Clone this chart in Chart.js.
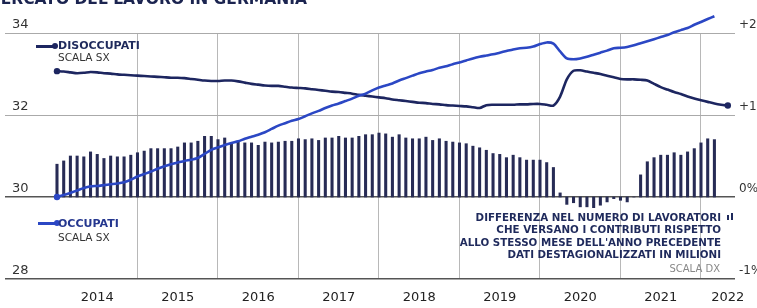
<!DOCTYPE html>
<html>
<head>
<meta charset="utf-8">
<script src="https://cdn.jsdelivr.net/npm/chart.js@4/dist/chart.umd.min.js"></script>
<style>
  html, body { margin: 0; padding: 0; background: #fff; }
  #wrap { position: relative; width: 757px; height: 308px; overflow: hidden; font-family: "DejaVu Sans", sans-serif; }
  #chart { position: absolute; left: 0; top: 0; }
  .txt { position: absolute; white-space: nowrap; }
  #title { right: 450px; top: -8px; font-size: 15.5px; line-height: 15px; font-weight: bold; color: #1b2450; }
  .leg { font-size: 11px; line-height: 12px; font-weight: bold; }
  .sub { font-size: 10.5px; line-height: 12px; color: #333; }
  .mk { position: absolute; height: 2.5px; width: 18px; }
  .dot { position: absolute; width: 6px; height: 6px; border-radius: 50%; }
  #note { right: 36px; top: 211px; text-align: right; font-size: 10.3px; line-height: 12.3px; font-weight: bold; color: #1f2a5c; }
  #scaladx { right: 37px; top: 263px; font-size: 10px; line-height: 12px; color: #888; }
  .ico { position: absolute; width: 2px; background: #1f2a5c; }
</style>
</head>
<body>
<div id="wrap">
  <canvas id="chart" width="757" height="308"></canvas>
  <div id="title" class="txt">IL MERCATO DEL LAVORO IN GERMANIA</div>

  <div class="mk" style="left:36px;top:45px;background:#1d2660"></div>
  <div class="dot" style="left:52px;top:43px;background:#1d2660"></div>
  <div class="txt leg" style="left:58px;top:40px;color:#1f2a5c">DISOCCUPATI</div>
  <div class="txt sub" style="left:58px;top:51px">SCALA SX</div>

  <div class="mk" style="left:38px;top:222px;background:#2b47c4"></div>
  <div class="dot" style="left:54px;top:220px;background:#2b47c4"></div>
  <div class="txt leg" style="left:58px;top:218px;color:#25378f">OCCUPATI</div>
  <div class="txt sub" style="left:58px;top:231px">SCALA SX</div>

  <div id="note" class="txt">DIFFERENZA NEL NUMERO DI LAVORATORI<br>CHE VERSANO I CONTRIBUTI RISPETTO<br>ALLO STESSO MESE DELL'ANNO PRECEDENTE<br>DATI DESTAGIONALIZZATI IN MILIONI</div>
  <div class="ico" style="left:727px;top:215px;height:5px"></div>
  <div class="ico" style="left:731px;top:213px;height:7px"></div>
  <div id="scaladx" class="txt">SCALA DX</div>
</div>
<script>
// monthly data, Jan 2014 onwards
const yearLabels = ['2014', '2015', '2016', '2017', '2018', '2019', '2020', '2021', '2022'];
const leftTicks = [28, 30, 32, 34];
const rightTicks = ['-1%', '0%', '+1%', '+2%'];

const disoccupati = [
  33.07, 33.06, 33.04, 33.02, 33.03, 33.05, 33.04, 33.02, 33.01, 32.99, 32.98, 32.97,
  32.96, 32.95, 32.94, 32.93, 32.92, 32.91, 32.91, 32.90, 32.88, 32.86, 32.84, 32.83,
  32.83, 32.84, 32.84, 32.82, 32.79, 32.76, 32.74, 32.72, 32.71, 32.71, 32.69, 32.67,
  32.66, 32.65, 32.63, 32.61, 32.59, 32.57, 32.56, 32.54, 32.52, 32.49, 32.47, 32.45,
  32.43, 32.41, 32.38, 32.36, 32.34, 32.32, 32.30, 32.29, 32.27, 32.26, 32.24, 32.23,
  32.22, 32.21, 32.19, 32.17, 32.24, 32.25, 32.25, 32.25, 32.25, 32.26, 32.26, 32.27,
  32.27, 32.25, 32.23, 32.45, 32.87, 33.08, 33.09, 33.06, 33.03, 33.00, 32.96, 32.92,
  32.88, 32.87, 32.87, 32.86, 32.84, 32.76, 32.68, 32.62, 32.56, 32.51, 32.45, 32.40,
  32.36, 32.32, 32.28, 32.25, 32.23
];

const occupati = [
  30.00, 30.05, 30.10, 30.16, 30.22, 30.26, 30.27, 30.29, 30.31, 30.33, 30.36, 30.42,
  30.50, 30.56, 30.62, 30.69, 30.75, 30.80, 30.84, 30.88, 30.91, 30.95, 31.05, 31.15,
  31.21, 31.27, 31.32, 31.36, 31.42, 31.47, 31.52, 31.58, 31.66, 31.74, 31.80, 31.86,
  31.90, 31.97, 32.04, 32.10, 32.17, 32.23, 32.28, 32.34, 32.40, 32.47, 32.52, 32.60,
  32.67, 32.72, 32.77, 32.84, 32.90, 32.96, 33.02, 33.06, 33.10, 33.15, 33.19, 33.24,
  33.28, 33.33, 33.38, 33.42, 33.45, 33.48, 33.52, 33.56, 33.60, 33.63, 33.64, 33.67,
  33.73, 33.77, 33.74, 33.55, 33.38, 33.36, 33.38, 33.42, 33.47, 33.52, 33.57, 33.63,
  33.64, 33.66, 33.70, 33.75, 33.80, 33.85, 33.90, 33.95, 34.02, 34.07, 34.12, 34.20,
  34.27, 34.34, 34.41
];

const differenza = [
  0.40, 0.44, 0.50, 0.50, 0.49, 0.55, 0.52, 0.47, 0.50, 0.49, 0.49, 0.51,
  0.54, 0.56, 0.59, 0.59, 0.59, 0.59, 0.61, 0.66, 0.66, 0.68, 0.74, 0.74,
  0.70, 0.72, 0.66, 0.67, 0.66, 0.66, 0.63, 0.67, 0.66, 0.67, 0.68, 0.68,
  0.71, 0.70, 0.71, 0.69, 0.72, 0.72, 0.74, 0.72, 0.72, 0.74, 0.76, 0.76,
  0.78, 0.77, 0.73, 0.76, 0.72, 0.71, 0.71, 0.73, 0.69, 0.71, 0.68, 0.67,
  0.66, 0.65, 0.62, 0.60, 0.57, 0.53, 0.52, 0.48, 0.51, 0.48, 0.45, 0.45,
  0.45, 0.42, 0.36, 0.05, -0.09, -0.07, -0.12, -0.12, -0.13, -0.10, -0.06, -0.02,
  -0.04, -0.06, 0, 0.27, 0.43, 0.48, 0.51, 0.51, 0.54, 0.51, 0.55, 0.59,
  0.66, 0.71, 0.70
];

const NAVY = '#1d2660';
const BLUE = '#2b47c4';
const BAR = '#272b55';
const X_MIN = -7.75, X_MAX = 101.07;

const toXY = arr => arr.map((v, i) => ({ x: i, y: v }));
const endDots = (ctx) => {
  const n = ctx.dataset.data.length;
  return (ctx.dataIndex === 0 || ctx.dataIndex === n - 1) ? 3.2 : 0;
};

const ctx = document.getElementById('chart').getContext('2d');
const chart = new Chart(ctx, {
  data: {
    datasets: [
      {
        type: 'bar',
        label: 'Differenza',
        data: toXY(differenza),
        backgroundColor: BAR,
        barThickness: 2.4,
        xAxisID: 'x',
        yAxisID: 'y2',
        order: 3
      },
      {
        type: 'line',
        label: 'Disoccupati',
        data: toXY(disoccupati),
        borderColor: NAVY,
        backgroundColor: NAVY,
        borderWidth: 2.6,
        tension: 0.25,
        pointRadius: endDots,
        pointBorderWidth: 0,
        xAxisID: 'x',
        yAxisID: 'y',
        clip: false,
        order: 2
      },
      {
        type: 'line',
        label: 'Occupati',
        data: toXY(occupati),
        borderColor: BLUE,
        backgroundColor: BLUE,
        borderWidth: 2.6,
        tension: 0.25,
        pointRadius: endDots,
        pointBorderWidth: 0,
        xAxisID: 'x',
        yAxisID: 'y',
        clip: false,
        order: 1
      }
    ]
  },
  options: {
    responsive: false,
    animation: false,
    devicePixelRatio: 1,
    layout: { padding: { top: 33, left: 5, right: 0, bottom: 0 } },
    plugins: {
      legend: { display: false },
      tooltip: { enabled: false }
    },
    scales: {
      x: {
        type: 'linear',
        min: X_MIN,
        max: X_MAX,
        offset: false,
        position: 'bottom',
        weight: 1,
        grid: { display: false, drawTicks: false, offset: false },
        border: { display: false },
        afterBuildTicks: (s) => {
          s.ticks = yearLabels.map((_, i) => ({ value: Math.min(6 + 12 * i, 100) }));
        },
        afterFit: (s) => { s.height = 29; },
        ticks: {
          autoSkip: false,
          maxRotation: 0,
          padding: 11,
          color: '#222',
          font: { family: 'DejaVu Sans', size: 13 },
          callback: (v, i) => yearLabels[i]
        }
      },
      x2: {
        type: 'linear',
        min: X_MIN,
        max: X_MAX,
        offset: false,
        position: 'bottom',
        weight: 0,
        grid: { color: '#b8b8b8', lineWidth: 1, drawTicks: false, offset: false },
        border: { display: false },
        ticks: { display: false },
        afterBuildTicks: (s) => {
          s.ticks = yearLabels.slice(1).map((_, i) => ({ value: 12 * (i + 1) }));
        },
        afterFit: (s) => { s.height = 0; }
      },
      y: {
        type: 'linear',
        position: 'left',
        min: 28,
        max: 34,
        afterBuildTicks: (s) => {
          s.ticks = leftTicks.map(v => ({ value: v }));
        },
        afterFit: (s) => { s.width = 0; },
        grid: {
          drawTicks: false,
          color: (c) => c.tick && c.tick.value <= 30 ? '#555' : '#aaa',
          lineWidth: (c) => c.tick && c.tick.value <= 30 ? 1.6 : 1
        },
        border: { display: false },
        ticks: {
          mirror: true,
          padding: 7,
          labelOffset: -8.5,
          color: '#333',
          font: { family: 'DejaVu Sans', size: 13 }
        }
      },
      y2: {
        type: 'linear',
        position: 'right',
        min: -1,
        max: 2,
        afterBuildTicks: (s) => {
          s.ticks = rightTicks.map((_, i) => ({ value: i - 1 }));
        },
        afterFit: (s) => { s.width = 22; },
        grid: { display: false, drawTicks: false },
        border: { display: false },
        ticks: {
          padding: 4,
          labelOffset: -8.5,
          color: '#333',
          font: { family: 'DejaVu Sans', size: 12 },
          callback: (v, i) => rightTicks[i]
        }
      }
    }
  }
});
</script>
</body>
</html>
